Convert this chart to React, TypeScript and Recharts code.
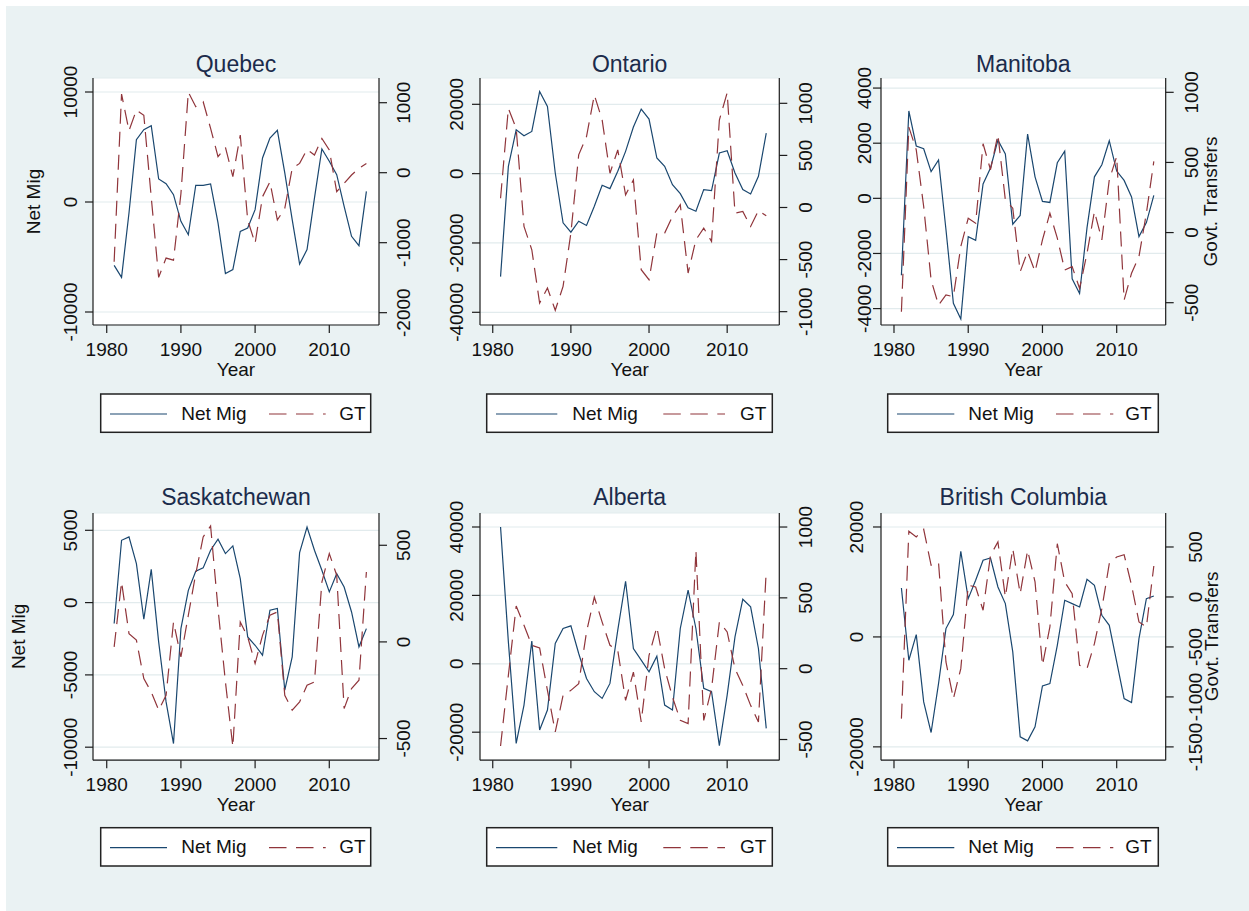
import React from 'react';
import { LineChart, Line, XAxis, YAxis, CartesianGrid } from 'recharts';

// ---------------- data ----------------
const years = [
  1981, 1982, 1983, 1984, 1985, 1986, 1987, 1988, 1989, 1990,
  1991, 1992, 1993, 1994, 1995, 1996, 1997, 1998, 1999, 2000,
  2001, 2002, 2003, 2004, 2005, 2006, 2007, 2008, 2009, 2010,
  2011, 2012, 2013, 2014, 2015,
];
const yearTicks = [1980, 1990, 2000, 2010];

const quebecNetMig = [-5760, -6850, -1000, 5670, 6580, 6940, 2090, 1670, 670, -1760, -2970, 1520, 1520, 1640, -1900, -6500, -6150, -2670, -2360, -700, 4000, 5820, 6520, 2640, -1600, -5640, -4330, 360, 4820, 3700, 2480, -390, -3120, -3970, 970];
const quebecGT = [-1271, 1124, 600, 895, 820, -350, -1495, -1220, -1250, -300, 1150, 943, 1014, 633, 229, 362, -57, 538, -676, -1010, -343, -129, -676, -510, 62, 133, 333, 252, 490, 324, -271, -152, -33, 62, 133];

const ontarioNetMig = [-29700, 2100, 12660, 10930, 12180, 23690, 19380, 190, -14200, -16880, -13720, -14960, -9400, -3360, -4320, 670, 6430, 13430, 18610, 15730, 4510, 2110, -3170, -5760, -9880, -10840, -4600, -4890, 5950, 6620, 190, -4600, -5850, -770, 11700];
const ontarioGT = [89, 952, 760, -182, -406, -917, -773, -987, -757, -246, 505, 681, 1080, 840, 329, 553, 121, 265, -597, -693, -246, -246, -86, 26, -629, -310, -198, -326, 840, 1102, -54, -38, -182, -29, -80];

const manitobaNetMig = [-2790, 3170, 1900, 1800, 970, 1390, -1130, -3810, -4380, -1390, -1520, 520, 1100, 2110, 1610, -940, -620, 2330, 780, -110, -150, 1290, 1710, -2920, -3450, -1070, 780, 1220, 2090, 990, 650, 50, -1390, -880, 110];
const manitobaGT = [-564, 752, 590, 186, -338, -517, -445, -457, -100, 102, 67, 633, 448, 698, 233, 174, -279, -136, -279, -52, 138, -40, -267, -243, -398, -148, 150, -52, 376, 543, -481, -290, -171, 138, 507];

const saskNetMig = [-1450, 4310, 4540, 2700, -1150, 2300, -2720, -6870, -9750, -1800, 850, 2170, 2400, 3620, 4380, 3390, 3920, 1660, -2370, -2950, -3640, -530, -410, -6060, -3760, 3460, 5230, 3620, 2240, 740, 2000, 1080, -650, -3060, -1800];
const saskGT = [-26, 310, 43, 9, -190, -259, -353, -276, 103, -78, 138, 353, 543, 600, 172, -207, -543, 103, 26, -112, 34, 138, 155, -276, -353, -310, -224, -207, 310, 457, 345, -345, -241, -198, 362];

const albertaNetMig = [40000, 6420, -23260, -12070, 6620, -19370, -13530, 5940, 10320, 11100, 3020, -4280, -8170, -10120, -5740, 9830, 24140, 4480, 1070, -2340, 2240, -12070, -13530, 10320, 21510, 10320, -7200, -8170, -23940, -9150, 7880, 18880, 16640, 4480, -18880];
const albertaGT = [-546, -47, 442, 306, 165, 146, -153, -447, -188, -153, -106, 259, 506, 329, 165, 129, -224, -24, -376, 94, 294, 0, -200, -365, -388, 835, -365, -141, 329, 259, 0, -118, -259, -376, 694];

const bcNetMig = [8910, -4240, 420, -11820, -17390, -8480, 1520, 4060, 15580, 6970, 10300, 13940, 14360, 9090, 6060, -2730, -18180, -18910, -16360, -8910, -8480, -1520, 6670, 6060, 5450, 10480, 9390, 3940, 2120, -4550, -11210, -11940, -300, 6970, 7450];
const bcGT = [-1217, 657, 600, 677, 317, 343, -650, -1017, -717, 117, 100, -133, 417, 550, 0, 483, 33, 467, 150, -683, -300, 533, 150, 33, -683, -717, -467, -117, 333, 400, 423, 117, -250, -300, 310];

const quebecLeftTicks = [-10000, 0, 10000];
const quebecRightTicks = [-2000, -1000, 0, 1000];
const ontarioLeftTicks = [-40000, -20000, 0, 20000];
const ontarioRightTicks = [-1000, -500, 0, 500, 1000];
const manitobaLeftTicks = [-4000, -2000, 0, 2000, 4000];
const manitobaRightTicks = [-500, 0, 500, 1000];
const saskLeftTicks = [-10000, -5000, 0, 5000];
const saskRightTicks = [-500, 0, 500];
const albertaLeftTicks = [-20000, 0, 20000, 40000];
const albertaRightTicks = [-500, 0, 500, 1000];
const bcLeftTicks = [-20000, 0, 20000];
const bcRightTicks = [-1500, -1000, -500, 0, 500];

const seriesNames = ['Net Mig', 'GT'];
const xTitle = 'Year';
const leftTitle = 'Net Mig';
const rightTitle = 'Govt. Transfers';

// ---------------- layout / style ----------------
const FONT = '"Liberation Sans", Arial, Helvetica, sans-serif';
const NAVY = '#1a476f';
const MAROON = '#90353b';
const BG = '#eaf2f3';
const AXIS = '#1c1c1c';
const GRID = '#e2ebed';
const DASH = '15 8';

const cols = [
  { plotX: 93, plotW: 286, xDomain: [1978.15, 2016.7], legendX: 100.7, legendW: 270, sol: [9.3, 66.3], netX: 80.5, dash: [168.3, 225], gtX: 238.5 },
  { plotX: 480, plotW: 299.3, xDomain: [1978.37, 2016.67], legendX: 486.7, legendW: 285.6, sol: [9.3, 70.6], netX: 85.6, dash: [176.6, 238.3], gtX: 253.3 },
  { plotX: 881, plotW: 284.7, xDomain: [1978.25, 2016.6], legendX: 887.7, legendW: 270.6, sol: [9.3, 66.6], netX: 80.6, dash: [168.3, 225.6], gtX: 237.5 },
];
const rows = [
  { plotY: 78, plotH: 247, titleY: 71.5, legendY: 394 },
  { plotY: 512.8, plotH: 247.2, titleY: 505, legendY: 827.7 },
];

type Panel = {
  name: string; net: number[]; gt: number[]; col: number; row: number;
  lDomain: number[]; lTicks: number[]; rDomain: number[]; rTicks: number[];
  lOff: number; rOff: number; leftTitleX: number | null; rightTitleX: number | null;
};

const panels: Panel[] = [
  { name: 'Quebec', net: quebecNetMig, gt: quebecGT, col: 0, row: 0, lDomain: [-11182, 11273], lTicks: quebecLeftTicks, rDomain: [-2176, 1353], rTicks: quebecRightTicks, lOff: -16.3, rOff: 31, leftTitleX: 40.3, rightTitleX: null },
  { name: 'Ontario', net: ontarioNetMig, gt: ontarioGT, col: 1, row: 0, lDomain: [-43665, 27590], lTicks: ontarioLeftTicks, rDomain: [-1128, 1243], rTicks: ontarioRightTicks, lOff: -16.7, rOff: 32.4, leftTitleX: null, rightTitleX: null },
  { name: 'Manitoba', net: manitobaNetMig, gt: manitobaGT, col: 2, row: 0, lDomain: [-4595, 4365], lTicks: manitobaLeftTicks, rDomain: [-659, 1102], rTicks: manitobaRightTicks, lOff: -9.5, rOff: 32.6, leftTitleX: null, rightTitleX: 1217 },
  { name: 'Saskatchewan', net: saskNetMig, gt: saskGT, col: 0, row: 1, lDomain: [-10899, 6197], lTicks: saskLeftTicks, rDomain: [-612, 667], rTicks: saskRightTicks, lOff: -16.3, rOff: 31, leftTitleX: 25.3, rightTitleX: null },
  { name: 'Alberta', net: albertaNetMig, gt: albertaGT, col: 1, row: 1, lDomain: [-28187, 44094], lTicks: albertaLeftTicks, rDomain: [-646, 1099], rTicks: albertaRightTicks, lOff: -16.7, rOff: 32.4, leftTitleX: null, rightTitleX: null },
  { name: 'British Columbia', net: bcNetMig, gt: bcGT, col: 2, row: 1, lDomain: [-22424, 22545], lTicks: bcLeftTicks, rDomain: [-1633, 840], rTicks: bcRightTicks, lOff: -17.7, rOff: 36, leftTitleX: null, rightTitleX: 1218.5 },
];

const txt = { fontFamily: FONT, fontSize: 19, fill: '#111111' };

function PanelChart({ p }: { p: Panel }) {
  const c = cols[p.col];
  const r = rows[p.row];
  const PL = 60, PR = 60, PT = 40, PB = 45;
  const W = c.plotW + PL + PR;
  const H = r.plotH + PT + PB;
  const axisY = PT + r.plotH;
  const rightX = PL + c.plotW;
  const data = years.map((year, i) => ({ year, net: p.net[i], gt: p.gt[i] }));

  const xTick = (props: any) => (
    <text x={props.x} y={axisY + 31} textAnchor="middle" {...txt}>{String(props.payload.value)}</text>
  );
  const lTick = (props: any) => {
    const x = PL + p.lOff;
    return (
      <text x={x} y={props.y} transform={`rotate(-90 ${x} ${props.y})`} textAnchor="middle" {...txt}>{String(props.payload.value)}</text>
    );
  };
  const rTick = (props: any) => {
    const x = rightX + p.rOff;
    return (
      <text x={x} y={props.y} transform={`rotate(-90 ${x} ${props.y})`} textAnchor="middle" {...txt}>{String(props.payload.value)}</text>
    );
  };
  const axisLine = { stroke: AXIS, strokeWidth: 1.2 };

  return (
    <div style={{ position: 'absolute', left: c.plotX - PL, top: r.plotY - PT }}>
      <LineChart width={W} height={H} data={data} margin={{ top: PT, right: 0, bottom: 0, left: 0 }}>
        <CartesianGrid yAxisId="left" vertical={false} stroke={GRID} strokeWidth={1.2} fill="#ffffff" fillOpacity={1} />
        <XAxis dataKey="year" type="number" domain={c.xDomain as any} ticks={yearTicks} allowDataOverflow height={PB}
          tickSize={8} interval={0} tick={xTick} axisLine={axisLine} tickLine={axisLine} />
        <YAxis yAxisId="left" orientation="left" type="number" width={PL} domain={p.lDomain as any} ticks={p.lTicks}
          allowDataOverflow tickSize={8} interval={0} tick={lTick} axisLine={axisLine} tickLine={axisLine} />
        <YAxis yAxisId="right" orientation="right" type="number" width={PR} domain={p.rDomain as any} ticks={p.rTicks}
          allowDataOverflow tickSize={8} interval={0} tick={rTick} axisLine={axisLine} tickLine={axisLine} />
        <Line yAxisId="left" type="linear" dataKey="net" name={seriesNames[0]} stroke={NAVY} strokeWidth={1.2}
          dot={false} activeDot={false} isAnimationActive={false} />
        <Line yAxisId="right" type="linear" dataKey="gt" name={seriesNames[1]} stroke={MAROON} strokeWidth={1.2}
          strokeDasharray={DASH} dot={false} activeDot={false} isAnimationActive={false} />
      </LineChart>
    </div>
  );
}

function PanelText({ p }: { p: Panel }) {
  const c = cols[p.col];
  const r = rows[p.row];
  const cx = c.plotX + c.plotW / 2;
  const cy = r.plotY + r.plotH / 2;
  const lx = c.legendX;
  const ly = r.legendY;
  return (
    <g>
      <text x={cx} y={r.titleY} textAnchor="middle" fontFamily={FONT} fontSize={23} fill="#1b2b4b">{p.name}</text>
      <text x={cx} y={r.plotY + r.plotH + 51} textAnchor="middle" {...txt}>{xTitle}</text>
      {p.leftTitleX !== null && (
        <text x={p.leftTitleX} y={cy} transform={`rotate(-90 ${p.leftTitleX} ${cy})`} textAnchor="middle" {...txt}>{leftTitle}</text>
      )}
      {p.rightTitleX !== null && (
        <text x={p.rightTitleX} y={cy} transform={`rotate(-90 ${p.rightTitleX} ${cy})`} textAnchor="middle" {...txt}>{rightTitle}</text>
      )}
      <rect x={lx} y={ly} width={c.legendW} height={38.3} fill="#ffffff" stroke="#222222" strokeWidth={1.5} />
      <line x1={lx + c.sol[0]} x2={lx + c.sol[1]} y1={ly + 20} y2={ly + 20} stroke={NAVY} strokeWidth={1.2} />
      <text x={lx + c.netX} y={ly + 25.6} {...txt}>{seriesNames[0]}</text>
      <line x1={lx + c.dash[0]} x2={lx + c.dash[1]} y1={ly + 20} y2={ly + 20} stroke={MAROON} strokeWidth={1.2} strokeDasharray="17.5 9.5" />
      <text x={lx + c.gtX} y={ly + 25.6} {...txt}>{seriesNames[1]}</text>
    </g>
  );
}

export default function App() {
  return (
    <div style={{ position: 'absolute', left: 0, top: 0, width: 1249, height: 911, background: '#ffffff', overflow: 'hidden' }}>
      <div style={{ position: 'absolute', left: 6, top: 6, width: 1243, height: 905, background: BG }} />
      {panels.map((p) => <PanelChart key={p.name} p={p} />)}
      <svg width={1249} height={911} style={{ position: 'absolute', left: 0, top: 0, pointerEvents: 'none' }}>
        {panels.map((p) => <PanelText key={p.name} p={p} />)}
      </svg>
    </div>
  );
}
